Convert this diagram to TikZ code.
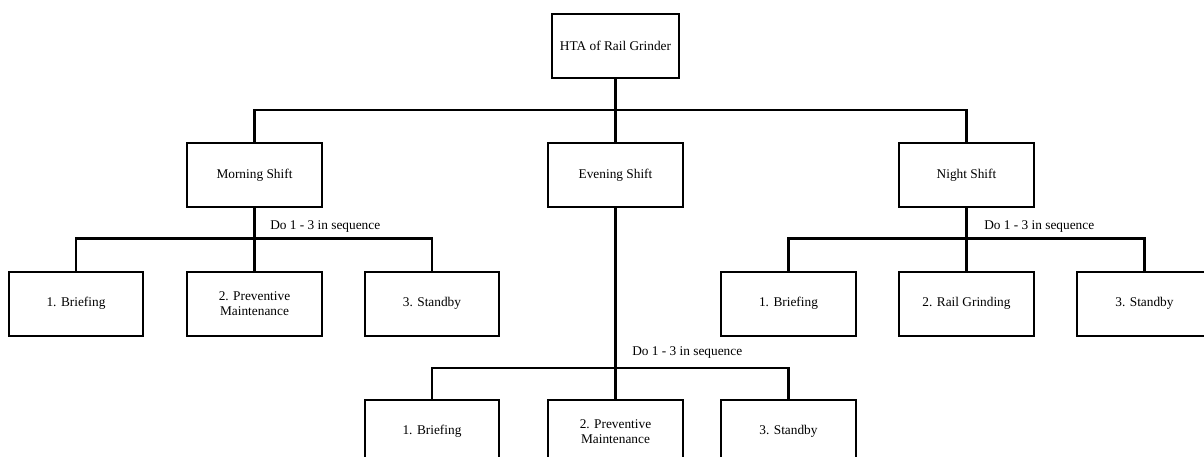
\documentclass[tikz,border=0pt]{standalone}
\usepackage{fontspec}
\setmainfont{Liberation Serif}
\begin{document}
\begin{tikzpicture}[x=0.75pt,y=-0.75pt,
  box/.style={draw, line width=1.5pt, minimum width=101pt, minimum height=48pt, inner sep=0pt, align=center, font=\fontsize{10}{11.2}\selectfont},
  topbox/.style={box, minimum width=95pt},
  link/.style={line width=1.6pt},
  seq/.style={anchor=west, inner sep=0pt, font=\fontsize{10}{11.2}\selectfont}]
\useasboundingbox (0,0) rectangle (1204,457);
\clip (0,0) rectangle (1204,457);
\fill[white] (0,0) rectangle (1204,457);
% nodes
\node[topbox] (top) at (615.5,46) {HTA of Rail Grinder};
\node[box] (ms) at (254.5,175) {Morning Shift};
\node[box] (es) at (615.5,175) {Evening Shift};
\node[box] (ns) at (966.5,175) {Night Shift};
\node[box] (m1) at (76,303.5) {1. Briefing};
\node[box] (m2) at (254.5,303.5) {2. Preventive\\Maintenance};
\node[box] (m3) at (432,303.5) {3. Standby};
\node[box] (n1) at (788.5,303.5) {1. Briefing};
\node[box] (n2) at (966.5,303.5) {2. Rail Grinding};
\node[box] (n3) at (1144.5,303.5) {3. Standby};
\node[box] (e1) at (432,431.5) {1. Briefing};
\node[box] (e2) at (615.5,431.5) {2. Preventive\\Maintenance};
\node[box] (e3) at (788.5,431.5) {3. Standby};
% bar levels
\coordinate (b0) at (0,110);
\coordinate (bm) at (0,238.5);
\coordinate (bn) at (0,238.5);
\coordinate (be) at (0,368);
% connectors
\draw[link] (top.south) -- (top.south |- b0);
\draw[link] (ms.north) |- (ns.north |- b0) -- (ns.north);
\draw[link] (es.north) -- (es.north |- b0);
\draw[link] (ms.south) -- (m2.north);
\draw[link] (m1.north) |- (m3.north |- bm) -- (m3.north);
\draw[link] (ns.south) -- (n2.north);
\draw[link] (n1.north) |- (n3.north |- bn) -- (n3.north);
\draw[link] (es.south) -- (e2.north);
\draw[link] (e1.north) |- (e3.north |- be) -- (e3.north);
% labels
\node[seq] (lm) at (270,227) {Do 1 - 3 in sequence};
\node[seq] (ln) at (984,227) {Do 1 - 3 in sequence};
\node[seq] (le) at (632,353) {Do 1 - 3 in sequence};
\end{tikzpicture}
\end{document}
